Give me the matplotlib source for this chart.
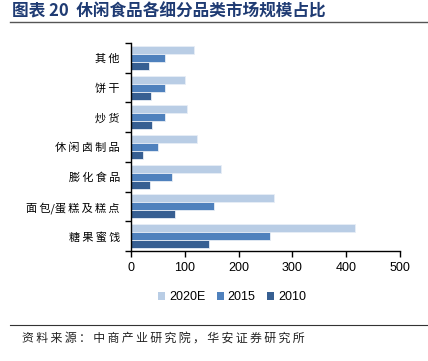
import matplotlib
matplotlib.use("Agg")
import matplotlib.pyplot as plt
import numpy as np
from matplotlib.lines import Line2D
from matplotlib.patches import Patch

plt.rcParams['font.family'] = ['Noto Sans CJK SC', 'DejaVu Sans']

categories = ["其他", "饼干", "炒货", "休闲卤制品", "膨化食品", "面包/蛋糕及糕点", "糖果蜜饯"]
series_names = ["2020E", "2015", "2010"]
v2020e = [117, 101, 105, 123, 168, 266, 416]
v2015 = [63, 63, 63, 51, 77, 155, 258]
v2010 = [34, 37, 39, 22, 35, 81, 145]
xticks = [0, 100, 200, 300, 400, 500]
colors = ["#B9CDE5", "#4F81BD", "#375F92"]

THIN = "\u2009"

def spaced(s):
    out = ""
    for i, ch in enumerate(s):
        out += ch
        if i < len(s) - 1 and ch != "/" and s[i + 1] != "/":
            out += THIN
    return out

fig = plt.figure(figsize=(4.28, 3.61), dpi=100)
ax = fig.add_axes([131/428, 1-251/361, (400-131)/428, (251-43)/361])

n = len(categories)
pos = np.arange(n)[::-1].astype(float)  # top category at highest y
h = 0.27
offsets = [h, 0.0, -h]
for vals, off, c, name in zip([v2020e, v2015, v2010], offsets, colors, series_names):
    ax.barh(pos + off, vals, height=h, color=c, edgecolor="#E8EEF6", linewidth=0.6, label=name)

ax.set_ylim(-0.5, n - 0.5)
ax.set_xlim(0, 500)
ax.set_xticks(xticks)
ax.set_xticklabels([str(t) for t in xticks], fontfamily="Liberation Sans", fontsize=9)
ax.set_yticks(pos)
ax.set_yticklabels([spaced(c) for c in categories], fontsize=8)
ax.tick_params(axis='y', length=0, pad=8)
ax.set_yticks(np.arange(-0.5, n, 1.0), minor=True)
ax.tick_params(axis='y', which='minor', length=4, width=1, direction='out')
ax.tick_params(axis='x', length=4, width=1, direction='out', pad=4)
for s in ["top", "right"]:
    ax.spines[s].set_visible(False)
for s in ["left", "bottom"]:
    ax.spines[s].set_color("black")
    ax.spines[s].set_linewidth(1.0)

handles = [Patch(facecolor=c, edgecolor="none") for c in colors]
leg = fig.legend(handles, series_names, loc="center", bbox_to_anchor=(232/428, 1-297/361),
                 ncol=3, frameon=False, handlelength=0.6, handleheight=0.6,
                 handletextpad=0.3, columnspacing=0.9,
                 prop={"family": "Liberation Sans", "size": 9})

# title and rules
fig.text(12/428, 1-11/361, "图表 20  休闲食品各细分品类市场规模占比", fontsize=12, fontweight="bold",
         color="#1F3B73", va="center", ha="left")
fig.add_artist(Line2D([10/428, 1], [1-21.5/361]*2, color="#555555", linewidth=1.0))
fig.add_artist(Line2D([10/428, 1], [1-324.5/361]*2, color="#333333", linewidth=0.8))
fig.text(22/428, 1-338/361, spaced("资料来源：中商产业研究院，华安证券研究所"), fontsize=8.6,
         color="#222222", va="center", ha="left")

fig.savefig("out.png", dpi=100)
